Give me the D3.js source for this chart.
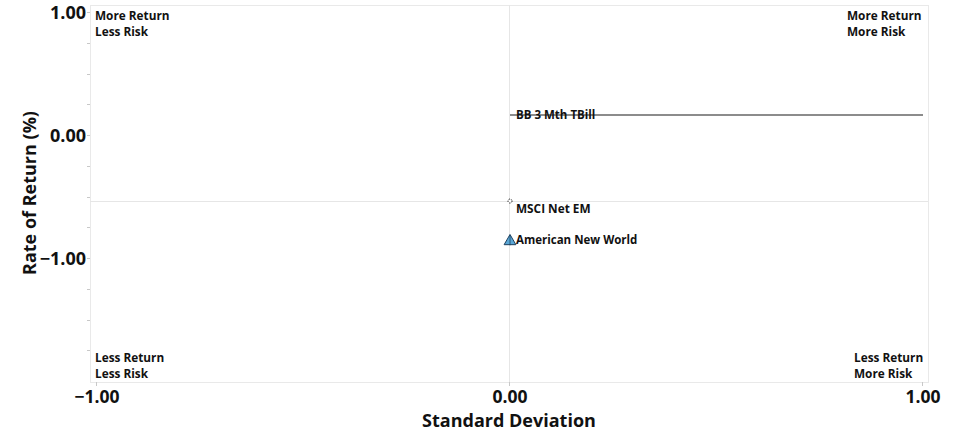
<!DOCTYPE html>
<html><head><meta charset="utf-8">
<script src="https://cdn.jsdelivr.net/npm/d3@7"></script>
<style>
body{margin:0;background:#fff;}
svg{display:block;font-family:"Open Sans","Noto Sans",sans-serif;}
</style></head>
<body>
<svg id="chart" width="960" height="433"></svg>
<script>
// Data
const seriesNames = ["MSCI Net EM", "American New World"];
const seriesStdDev = [0.0, 0.0];
const seriesReturn = [-0.537, -0.856];
const riskFreeName = "BB 3 Mth TBill";
const riskFreeReturn = 0.163;
const riskFreeStdRange = [0.0, 1.0];
const xTickValues = [-1, 0, 1];
const yTickValues = [-1, 0, 1];
const yMinorTicks = [-1.75, -1.5, -1.25, -1, -0.75, -0.5, -0.25, 0, 0.25, 0.5, 0.75, 1];
const quadrantLabels = [
  ["More Return", "Less Risk"],
  ["More Return", "More Risk"],
  ["Less Return", "Less Risk"],
  ["Less Return", "More Risk"]
];
const xTitle = "Standard Deviation";
const yTitle = "Rate of Return (%)";

const svg = d3.select("#chart");
const plot = {left: 90, right: 928, top: 5, bottom: 382};

const x = d3.scaleLinear().domain([-1, 1]).range([97, 923]);
const y = d3.scaleLinear().domain([1, -1]).range([12, 258]);

// plot border
svg.append("rect").attr("x", plot.left + 0.5).attr("y", plot.top + 0.5)
  .attr("width", plot.right - plot.left).attr("height", plot.bottom - plot.top)
  .attr("fill", "none").attr("stroke", "#e9e9e9").attr("stroke-width", 1);

// crosshair at benchmark
const bx = x(seriesStdDev[0]), by = y(seriesReturn[0]);
svg.append("line").attr("x1", plot.left).attr("x2", plot.right)
  .attr("y1", Math.round(by) + 0.5).attr("y2", Math.round(by) + 0.5)
  .attr("stroke", "#e6e6e6").attr("stroke-width", 1);
svg.append("line").attr("x1", Math.round(bx) - 0.5).attr("x2", Math.round(bx) - 0.5)
  .attr("y1", plot.top).attr("y2", plot.bottom)
  .attr("stroke", "#e6e6e6").attr("stroke-width", 1);

// left axis ticks
svg.append("g").selectAll("line").data(yMinorTicks).join("line")
  .attr("x1", plot.left - 3).attr("x2", plot.left)
  .attr("y1", d => Math.round(y(d)) + 0.5).attr("y2", d => Math.round(y(d)) + 0.5)
  .attr("stroke", "#c8c8c8");
svg.append("g").selectAll("text").data(yTickValues).join("text")
  .attr("x", plot.left - 4).attr("y", d => y(d) + 6.5)
  .attr("text-anchor", "end").attr("font-size", 18).attr("font-weight", 700)
  .attr("fill", "#111").text(d => d3.format(".2f")(d));

// bottom axis ticks
svg.append("g").selectAll("line").data(xTickValues).join("line")
  .attr("x1", d => Math.round(x(d)) - 0.5).attr("x2", d => Math.round(x(d)) - 0.5)
  .attr("y1", plot.bottom).attr("y2", plot.bottom + 4)
  .attr("stroke", "#c8c8c8");
svg.append("g").selectAll("text").data(xTickValues).join("text")
  .attr("x", d => x(d)).attr("y", 402.5)
  .attr("text-anchor", "middle").attr("font-size", 17.5).attr("font-weight", 700)
  .attr("fill", "#111").text(d => d3.format(".2f")(d));

// axis titles
svg.append("text").attr("x", 509).attr("y", 426.5).attr("text-anchor", "middle")
  .attr("font-size", 18).attr("font-weight", 700).attr("fill", "#111").text(xTitle);
svg.append("text").attr("transform", "translate(36,193) rotate(-90)").attr("text-anchor", "middle")
  .attr("font-size", 18).attr("font-weight", 700).attr("fill", "#111").text(yTitle);

// quadrant labels
const qPos = [
  {x: plot.left + 5, y: 20},
  {x: 847, y: 20},
  {x: plot.left + 5, y: 362},
  {x: 854, y: 362}
];
quadrantLabels.forEach((lines, i) => {
  lines.forEach((l, j) => svg.append("text")
    .attr("font-size", 11.8).attr("font-weight", 700).attr("fill", "#111")
    .attr("x", qPos[i].x).attr("y", qPos[i].y + j * 16).text(l));
});

// risk-free line
svg.append("line")
  .attr("x1", x(riskFreeStdRange[0])).attr("x2", x(riskFreeStdRange[1]))
  .attr("y1", y(riskFreeReturn)).attr("y2", y(riskFreeReturn))
  .attr("stroke", "#666").attr("stroke-width", 1.5);
svg.append("text").attr("x", x(riskFreeStdRange[0]) + 6).attr("y", y(riskFreeReturn) + 4)
  .attr("font-size", 11.5).attr("font-weight", 700).attr("fill", "#111").text(riskFreeName);

// benchmark marker (small circle)
svg.append("circle").attr("cx", x(seriesStdDev[0])).attr("cy", y(seriesReturn[0]))
  .attr("r", 2).attr("fill", "#fff").attr("stroke", "#111").attr("stroke-width", 1)
  .attr("stroke-dasharray", "1.2,1.2");
svg.append("text").attr("x", x(seriesStdDev[0]) + 6).attr("y", y(seriesReturn[0]) + 12)
  .attr("font-size", 11.8).attr("font-weight", 700).attr("fill", "#111").text(seriesNames[0]);

// fund marker (triangle)
const tx = x(seriesStdDev[1]), ty = y(seriesReturn[1]);
svg.append("path").attr("d", d3.symbol(d3.symbolTriangle, 60)())
  .attr("transform", `translate(${tx},${ty + 1})`)
  .attr("fill", "#5aa7d6").attr("stroke", "#1d3f5e").attr("stroke-width", 1);
svg.append("line").attr("x1", tx).attr("x2", tx).attr("y1", ty - 5).attr("y2", ty + 5)
  .attr("stroke", "#1d3f5e").attr("stroke-width", 0.8);
svg.append("text").attr("x", tx + 6).attr("y", ty + 4)
  .attr("font-size", 11.5).attr("font-weight", 700).attr("fill", "#111").text(seriesNames[1]);
</script>
</body></html>
